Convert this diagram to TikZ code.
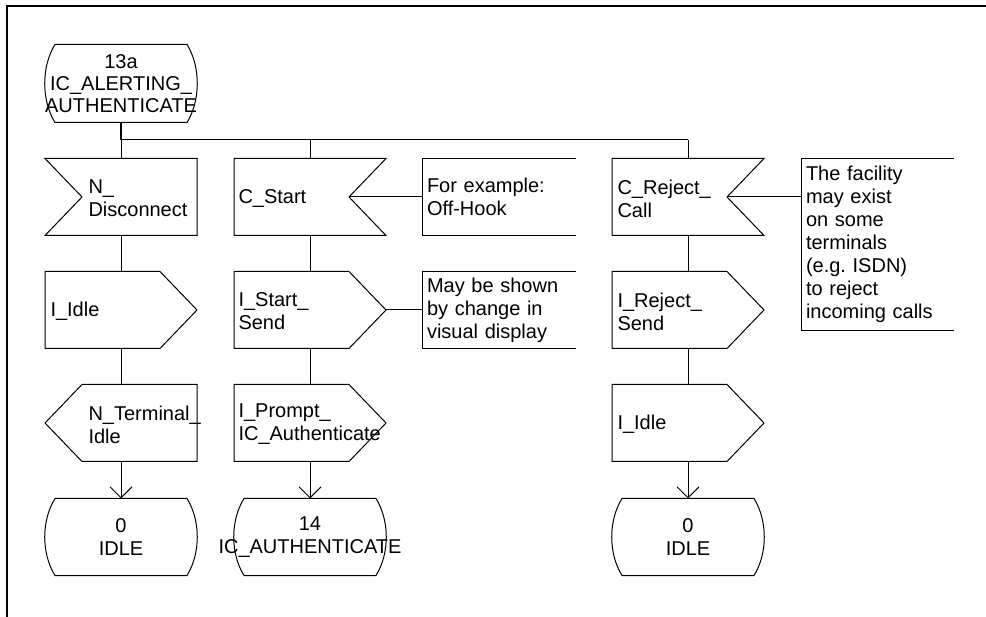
\documentclass[tikz,border=0pt]{standalone}
\usepackage{fontspec}
\setmainfont{Liberation Sans}
\usetikzlibrary{calc,arrows.meta}
\frenchspacing

% SDL symbol outlines, drawn from the anchors of an empty rectangle node
\newcommand\sdlstate[1]{%
  \draw ($(#1.north west)+(10,0)$) -- ($(#1.north east)+(-10,0)$)
    .. controls ($(#1.north east)+(3.7,22)$) and ($(#1.south east)+(3.7,-22)$) .. ($(#1.south east)+(-10,0)$)
    -- ($(#1.south west)+(10,0)$)
    .. controls ($(#1.south west)+(-3.7,-22)$) and ($(#1.north west)+(-3.7,22)$) .. ($(#1.north west)+(10,0)$) -- cycle;}
\newcommand\sdlinleft[1]{%
  \draw (#1.north west) -- (#1.north east) -- (#1.south east) -- (#1.south west)
    -- ($(#1.west)+(37,0)$) -- cycle;}
\newcommand\sdlinright[1]{%
  \draw (#1.north west) -- (#1.north east) -- ($(#1.east)+(-37,0)$) -- (#1.south east)
    -- (#1.south west) -- cycle;}
\newcommand\sdloutright[1]{%
  \draw (#1.north west) -- ($(#1.north east)+(-37,0)$) -- (#1.east)
    -- ($(#1.south east)+(-37,0)$) -- (#1.south west) -- cycle;}
\newcommand\sdloutleft[1]{%
  \draw (#1.north east) -- ($(#1.north west)+(37,0)$) -- (#1.west)
    -- ($(#1.south west)+(37,0)$) -- (#1.south east) -- cycle;}
\newcommand\sdlnote[1]{%
  \draw (#1.north east) -- (#1.north west) -- (#1.south west) -- (#1.south east);}

\begin{document}
\begin{tikzpicture}[x=1pt,y=-1pt,line width=1pt,
  sym/.style={draw=none,minimum width=151pt,minimum height=76pt,inner sep=0pt},
  txt/.style={font=\fontsize{20}{23}\selectfont,inner sep=0pt,align=left,anchor=west},
  ctxt/.style={font=\fontsize{20}{23}\selectfont,inner sep=0pt,align=center},
  note/.style={font=\fontsize{20}{23}\selectfont,align=left,text width=144pt,
    inner xsep=4pt,inner ysep=0pt,minimum height=76pt},
  tip/.style={-{Straight Barb[length=11pt,width=22pt]}}]
\useasboundingbox (0,0) rectangle (986,617);

% frame
\draw[line width=2pt] (7,617) -- (7,6) -- (986,6);

% start state
\node[sym,minimum height=77pt] (s0) at (121,83.5) {};
\sdlstate{s0}
\node[ctxt,font=\fontsize{20}{22}\selectfont] (s0t) at (s0) {13a\\IC\_ALERTING\_\\AUTHENTICATE};

% symbol placeholders
\node[sym] (in1) at (121,197) {};
\node[sym] (in2) at (310,197) {};
\node[sym] (in3) at (688,197) {};
\node[sym] (o11) at (121,310) {};
\node[sym] (o21) at (310,310) {};
\node[sym] (o31) at (688,310) {};
\node[sym] (o12) at (121,423) {};
\node[sym] (o22) at (310,423) {};
\node[sym] (o32) at (688,423) {};
\node[sym] (st1) at (121,537) {};
\node[sym] (st2) at (310,537) {};
\node[sym] (st3) at (688,537) {};

\sdlinleft{in1}
\sdlinright{in2}
\sdlinright{in3}
\sdloutright{o11}
\sdloutright{o21}
\sdloutright{o31}
\sdloutleft{o12}
\sdloutright{o22}
\sdloutright{o32}
\sdlstate{st1}
\sdlstate{st2}
\sdlstate{st3}

% texts
\node[txt] (in1t) at ($(in1.west)+(43,1.5)$) {N\_\\Disconnect};
\node[txt] (in2t) at ($(in2.west)+(4,1.5)$) {C\_Start};
\node[txt] (in3t) at ($(in3.west)+(5,1.5)$) {C\_Reject\_\\Call};
\node[txt] (o11t) at ($(o11.west)+(5,1.5)$) {I\_Idle};
\node[txt] (o21t) at ($(o21.west)+(4,1.5)$) {I\_Start\_\\Send};
\node[txt] (o31t) at ($(o31.west)+(5,1.5)$) {I\_Reject\_\\Send};
\node[txt] (o12t) at ($(o12.west)+(43,1.5)$) {N\_Terminal\_\\Idle};
\node[txt] (o22t) at ($(o22.west)+(4,1.5)$) {I\_Prompt\_\\IC\_Authenticate};
\node[txt] (o32t) at ($(o32.west)+(5,1.5)$) {I\_Idle};
\node[ctxt] (st1t) at (st1) {0\\IDLE};
\node[ctxt] (st2t) at (st2) {14\\IC\_AUTHENTICATE};
\node[ctxt] (st3t) at (st3) {0\\IDLE};

% comments
\node[note] (nt1) at (499,197) {For example:\\Off-Hook};
\node[note] (nt2) at (499,310) {May be shown\\by change in\\visual display};
\node[note,text width=143pt,minimum height=171pt] (nt3) at (877.5,244.5)
  {The facility\\may exist\\on some\\terminals\\(e.g. ISDN)\\to reject\\incoming calls};
\sdlnote{nt1}
\sdlnote{nt2}
\sdlnote{nt3}

% flow lines
\coordinate (j1) at (121,140);
\coordinate (j2) at (310,140);
\coordinate (j3) at (688,140);
\draw[line width=1.6pt] (s0.south) -- (j1);
\draw (j1) -- (j3);
\draw (j1) -- (in1.north);
\draw (j2) -- (in2.north);
\draw (j3) -- (in3.north);
\draw (in1.south) -- (o11.north);
\draw (o11.south) -- (o12.north);
\draw[tip] (o12.south) -- (st1.north);
\draw (in2.south) -- (o21.north);
\draw (o21.south) -- (o22.north);
\draw[tip] (o22.south) -- (st2.north);
\draw (in3.south) -- (o31.north);
\draw (o31.south) -- (o32.north);
\draw[tip] (o32.south) -- (st3.north);

% comment connectors
\coordinate (v2) at ($(in2.east)+(-37,0)$);
\coordinate (v3) at ($(in3.east)+(-37,0)$);
\draw (v2) -- (nt1.west);
\draw (o21.east) -- (nt2.west);
\draw (v3) -- (v3 -| nt3.west);
\end{tikzpicture}
\end{document}
